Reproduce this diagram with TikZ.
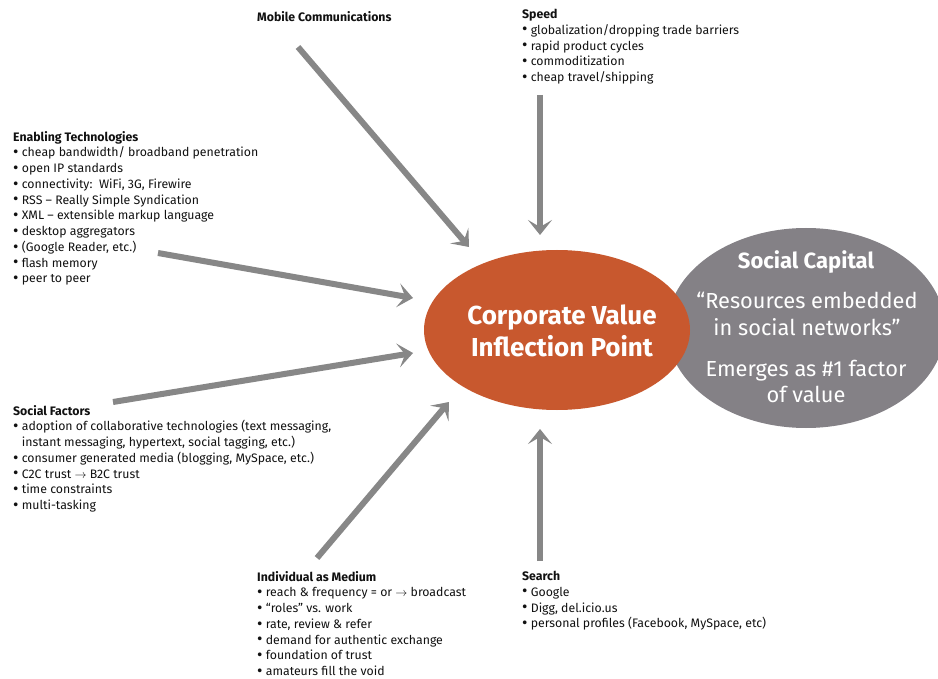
\documentclass[tikz,border=0pt]{standalone}
\usepackage{fontspec}
\setmainfont{Fira Sans}
\usetikzlibrary{arrows.meta,shapes.geometric}
\definecolor{orng}{HTML}{C8582E}
\definecolor{gcap}{HTML}{848186}
\definecolor{arr}{HTML}{878787}
\definecolor{txt}{HTML}{111111}
\tikzset{
  flow/.style={draw=arr, line width=6pt, -{Stealth[length=15pt,width=24pt,inset=7pt]}},
  lst/.style={anchor=north west, align=left, inner sep=0pt, text=txt,
    font=\fontsize{12.3}{15.75}\selectfont},
  blob/.style={ellipse, inner sep=0pt, draw=none},
}
\newcommand{\bl}{\raisebox{-0.6pt}{\scalebox{1.35}{\textbullet}}\ }
\newcommand{\hd}[1]{\textbf{#1}}
\begin{document}
\begin{tikzpicture}[x=1pt,y=-1pt]
\useasboundingbox (0,0) rectangle (938,679);
\clip (0,0) rectangle (938,679);
\fill[white] (0,0) rectangle (938,679);
% ellipses
\node[blob, fill=gcap, minimum width=278pt, minimum height=200pt] (cap) at (806,328) {};
\node[blob, fill=orng, minimum width=266pt, minimum height=160pt] (core) at (557,330) {};
\node[text=white, align=center, font=\fontsize{26}{32.5}\selectfont\bfseries] (cvip) at (562,331) {Corporate Value\\Inflection Point};
\node[text=white, font=\fontsize{22}{24}\selectfont\bfseries] (sc) at (806,262) {Social Capital};
\node[text=white, align=center, font=\fontsize{21.8}{27}\selectfont] (res) at (807,314) {“Resources embedded\\in social networks”};
\node[text=white, align=center, font=\fontsize{21.8}{26}\selectfont] (em) at (806,381) {Emerges as \#1 factor\\of value};
% text blocks
\node[lst] (mob) at (257,11) {\hd{Mobile Communications}};
\node[lst] (spd) at (522,9) {\hd{Speed}\\
\bl globalization/dropping trade barriers\\
\bl rapid product cycles\\
\bl commoditization\\
\bl cheap travel/shipping};
\node[lst] (ena) at (13,131) {\hd{Enabling Technologies}\\
\bl cheap bandwidth/ broadband penetration\\
\bl open IP standards\\
\bl connectivity:\ \ WiFi, 3G, Firewire\\
\bl RSS – Really Simple Syndication\\
\bl XML – extensible markup language\\
\bl desktop aggregators\\
\bl (Google Reader, etc.)\\
\bl flash memory\\
\bl peer to peer};
\node[lst] (soc) at (13,405) {\hd{Social Factors}\\
\bl adoption of collaborative technologies (text messaging,\\
\phantom{\bl}instant messaging, hypertext, social tagging, etc.)\\
\bl consumer generated media (blogging, MySpace, etc.)\\
\bl C2C trust $\rightarrow$ B2C trust\\
\bl time constraints\\
\bl multi-tasking};
\node[lst] (ind) at (257,571) {\hd{Individual as Medium}\\
\bl reach \& frequency = or $\rightarrow$ broadcast\\
\bl “roles” vs. work\\
\bl rate, review \& refer\\
\bl demand for authentic exchange\\
\bl foundation of trust\\
\bl amateurs fill the void};
\node[lst] (sea) at (522,571) {\hd{Search}\\
\bl Google\\
\bl Digg, del.icio.us\\
\bl personal profiles (Facebook, MySpace, etc)};
% arrow ends
\coordinate (mobT) at (298,47);  \coordinate (mobH) at (469,247);
\coordinate (spdT) at (540,95);  \coordinate (spdH) at (540,235);
\coordinate (enaT) at (158,253); \coordinate (enaH) at (413,298);
\coordinate (socT) at (113,402); \coordinate (socH) at (413,353);
\coordinate (indT) at (317,558); \coordinate (indH) at (449,402);
\coordinate (seaT) at (540,561); \coordinate (seaH) at (540,429);
\draw[flow] (mobT) -- (mobH);
\draw[flow] (spdT) -- (spdH);
\draw[flow] (enaT) -- (enaH);
\draw[flow] (socT) -- (socH);
\draw[flow] (indT) -- (indH);
\draw[flow] (seaT) -- (seaH);
\end{tikzpicture}
\end{document}
